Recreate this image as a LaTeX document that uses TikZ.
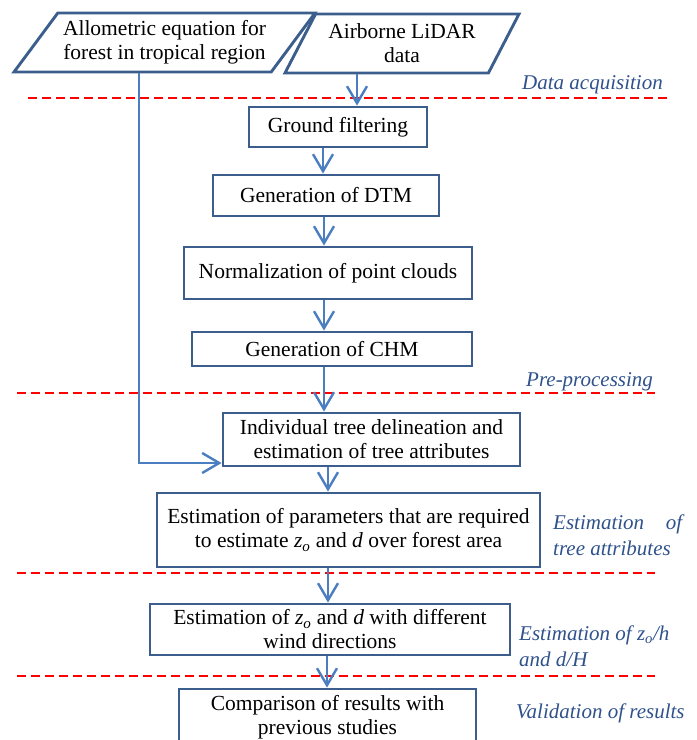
\documentclass[tikz,border=0pt]{standalone}
\usepackage{fontspec}
\setmainfont{Liberation Serif}
\usepackage{tikz}
\usetikzlibrary{arrows.meta, shapes.geometric}

\definecolor{boxblue}{RGB}{59,94,140}
\definecolor{arrblue}{RGB}{74,126,193}
\definecolor{lblblue}{RGB}{47,82,140}

\begin{document}
\begin{tikzpicture}[x=1pt, y=-1pt,
  box/.style={draw=boxblue, line width=2.9pt, align=center, inner sep=0pt,
    font=\fontsize{21.5}{24}\selectfont},
  inbox/.style={box, trapezium, trapezium stretches body},
  flow/.style={draw=arrblue, line width=2.4pt, -{Straight Barb[length=17pt, width=20pt]}},
  stage/.style={text=lblblue, inner sep=0pt, font=\fontsize{21}{26}\selectfont\itshape},
  sep/.style={draw=red, line width=2pt, dash pattern=on 9pt off 5pt}]
\useasboundingbox (0,0) rectangle (697,740);

% inputs
\node[inbox, trapezium left angle=45, trapezium right angle=135,
  minimum width=301pt, minimum height=59pt] (allo) at (164.5,42.5)
  {Allometric equation for\\forest in tropical region};
\node[inbox, trapezium left angle=52, trapezium right angle=128,
  minimum width=234pt, minimum height=59pt] (air) at (402,43.5)
  {Airborne LiDAR\\data};

% processing steps
\node[box, minimum width=178pt, minimum height=40pt] (gf) at (338,127) {Ground filtering};
\node[box, minimum width=226pt, minimum height=41pt] (dtm) at (326,195.5) {Generation of DTM};
\node[box, minimum width=288pt, minimum height=52pt] (norm) at (328,273) {Normalization of point clouds};
\node[box, minimum width=280pt, minimum height=34pt] (chm) at (332,349) {Generation of CHM};
\node[box, minimum width=297pt, minimum height=53pt] (ind) at (371.5,439.5)
  {Individual tree delineation and\\estimation of tree attributes};
\node[box, minimum width=383pt, minimum height=74pt] (par) at (348.5,530)
  {Estimation of parameters that are required\\to estimate \textit{z}\textsubscript{\textit{o}} and \textit{d} over forest area};
\node[box, minimum width=360pt, minimum height=51pt] (zo) at (330,629.5)
  {Estimation of \textit{z}\textsubscript{\textit{o}} and \textit{d} with different\\wind directions};
\node[box, minimum width=297pt, minimum height=56pt] (cmp) at (327.5,717)
  {Comparison of results with\\previous studies};

% stage separators
\draw[sep] (28,98) -- (667,98);
\draw[sep] (17,393) -- (655,393);
\draw[sep] (17,573) -- (655,573);
\draw[sep] (17,676) -- (655,676);

% stage names
\node[stage, anchor=base west] (acq) at (522,89) {Data acquisition};
\node[stage, anchor=base west] (pre) at (526,386) {Pre-processing};
\node[stage, anchor=west, text width=129pt, align=justify] (att) at (553,535)
  {Estimation of tree attributes};
\node[stage, anchor=west, align=left] (rat) at (519,646)
  {Estimation of z\textsubscript{o}/h\\and d/H};
\node[stage, anchor=base west] (val) at (516,718) {Validation of results};

% connectors
\draw[flow] ([xshift=-45pt]air.south) -- ([xshift=-45pt]air.south |- gf.north);
\draw[flow] ([xshift=-25.5pt]allo.south) |- ([yshift=-23.5pt]ind.west);
\foreach \a/\b/\s in {gf/dtm/-15, dtm/norm/-2, norm/chm/-4, chm/ind/-8,
    ind/par/-43.5, par/zo/-20.5, zo/cmp/-3}
  \draw[flow] ([xshift=\s pt]\a.south) -- ([xshift=\s pt]\a.south |- \b.north);
\end{tikzpicture}
\end{document}
